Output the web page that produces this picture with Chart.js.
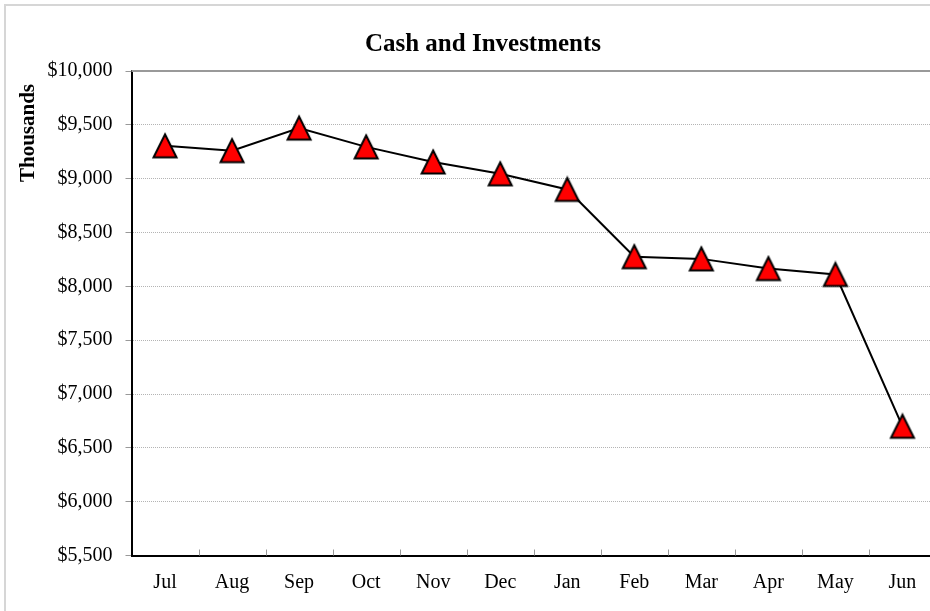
<!DOCTYPE html>
<html>
<head>
<meta charset="utf-8">
<script src="https://cdn.jsdelivr.net/npm/chart.js@4.4.0/dist/chart.umd.min.js"></script>
<style>
  html, body { margin: 0; padding: 0; background: #fff; overflow: hidden; }
  #frame { position: absolute; left: 4px; top: 4px; width: 1000px; height: 1000px; border: 2px solid #d6d6d6; }
  #chart { position: absolute; left: 0; top: 0; }
</style>
</head>
<body>
<div id="frame"></div>
<!-- a little wider than the window: the plot area runs past the right edge -->
<canvas id="chart" width="936" height="611"></canvas>
<script>
const months = ["Jul", "Aug", "Sep", "Oct", "Nov", "Dec", "Jan", "Feb", "Mar", "Apr", "May", "Jun"]
const cashValues = [9305, 9260, 9470, 9295, 9155, 9045, 8900, 8275, 8255, 8165, 8110, 6700]
const yMin = 5500
const yMax = 10000
const yStep = 500
const chartTitle = "Cash and Investments"
const yTitle = "Thousands"

const FONT = "'Liberation Serif', 'Times New Roman', serif"

// red triangle marker, black outline
function makeTriangle() {
    const c = document.createElement("canvas")
    c.width = 28
    c.height = 28
    const g = c.getContext("2d")
    g.beginPath()
    g.moveTo(14, 2.5)
    g.lineTo(25.5, 25.5)
    g.lineTo(2.5, 25.5)
    g.closePath()
    g.fillStyle = "#ff0000"
    g.fill()
    g.lineWidth = 2
    g.strokeStyle = "#000"
    g.lineJoin = "miter"
    g.stroke()
    return c
}

const decorations = {
    id: "decorations",
    beforeDatasetsDraw(chart) {
        const { ctx, chartArea, scales } = chart
        const x = scales.x
        // small tick marks between categories, pointing up into the plot
        ctx.save()
        ctx.strokeStyle = "#999"
        ctx.lineWidth = 1
        for (let i = 1; i < months.length; i++) {
            const px = Math.round((x.getPixelForTick(i - 1) + x.getPixelForTick(i)) / 2) + 0.5
            ctx.beginPath()
            ctx.moveTo(px, chartArea.bottom - 6)
            ctx.lineTo(px, chartArea.bottom)
            ctx.stroke()
        }
        // plot top border
        ctx.strokeStyle = "#999"
        ctx.lineWidth = 2
        ctx.beginPath()
        ctx.moveTo(chartArea.left, chartArea.top)
        ctx.lineTo(chartArea.right, chartArea.top)
        ctx.stroke()
        ctx.restore()
    },
    afterDraw(chart) {
        const { ctx } = chart
        ctx.save()
        ctx.fillStyle = "#000"
        ctx.textAlign = "center"
        ctx.textBaseline = "middle"
        ctx.font = "bold 25px " + FONT
        ctx.fillText(chartTitle, 483, 45)
        ctx.translate(28.5, 133)
        ctx.rotate(-Math.PI / 2)
        ctx.font = "bold 21px " + FONT
        ctx.fillText(yTitle, 0, 0)
        ctx.restore()
    }
}

new Chart(document.getElementById("chart"), {
    type: "line",
    data: {
        labels: months,
        datasets: [
            {
                data: cashValues,
                borderColor: "#000",
                borderWidth: 2,
                tension: 0,
                pointStyle: makeTriangle(),
                pointRadius: 12,
                pointHoverRadius: 12,
                clip: false,
            },
        ],
    },
    options: {
        responsive: false,
        animation: false,
        events: [],
        layout: {
            autoPadding: false,
            padding: { top: 71, left: 0, right: 0, bottom: 0 },
        },
        scales: {
            x: {
                offset: true,
                grid: { display: false, drawTicks: false },
                border: { display: true, color: "#000", width: 2 },
                ticks: {
                    color: "#000",
                    padding: 15,
                    maxRotation: 0,
                    font: { family: FONT, size: 20 },
                },
                afterFit(scale) { scale.height = 55.5 },
            },
            y: {
                min: yMin,
                max: yMax,
                grid: {
                    color: "#b4b4b4",
                    lineWidth: 1,
                    tickColor: "#999",
                    tickLength: 6,
                    tickWidth: 1,
                },
                border: { display: true, color: "#000", width: 2, dash: [1, 1] },
                ticks: {
                    stepSize: yStep,
                    color: "#000",
                    padding: 13,
                    font: { family: FONT, size: 20 },
                    callback: (v) => "$" + v.toLocaleString("en-US"),
                },
                afterFit(scale) { scale.width = 131.5 },
            },
        },
        plugins: {
            legend: { display: false },
            title: { display: false },
            tooltip: { enabled: false },
        },
    },
    plugins: [decorations],
})
</script>
</body>
</html>
